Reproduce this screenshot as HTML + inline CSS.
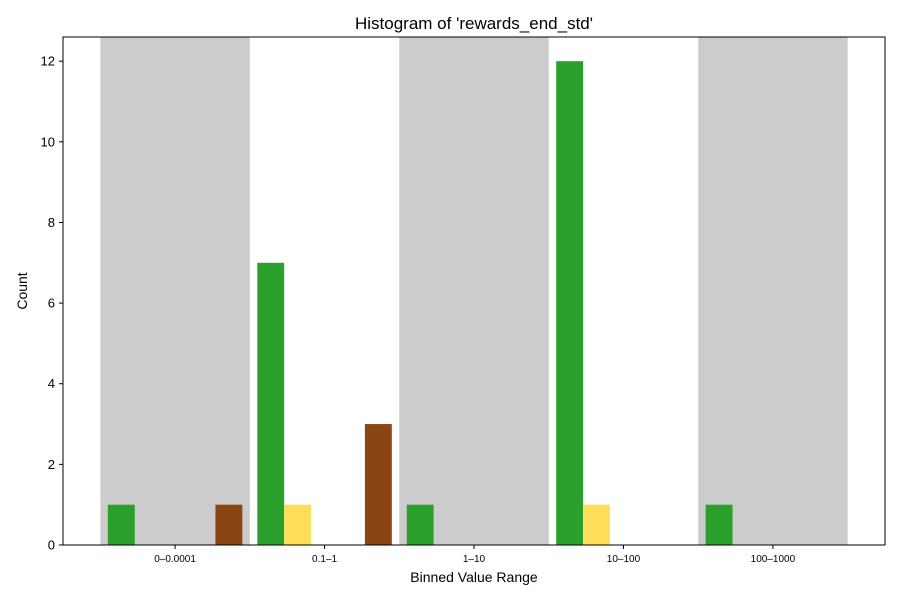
<!DOCTYPE html>
<html><head><meta charset="utf-8"><style>
body{margin:0;background:#fff}
text{font-family:"Liberation Sans","DejaVu Sans",sans-serif}
</style></head><body>
<svg id="chart" width="900" height="600"></svg>
<script>
const categories=["0–0.0001","0.1–1","1–10","10–100","100–1000"];
const greenValues=[1,7,1,12,1];
const yellowValues=[0,1,0,1,0];
const brownValues=[1,3,0,0,0];
const yTicks=[0,2,4,6,8,10,12];
const shadedCategories=[0,2,4];

const L=63,R=885,T=37,B=545,yMax=12.6,xMin=-0.75,xMax=4.75;
const xs=v=>L+(v-xMin)/(xMax-xMin)*(R-L);
const ys=v=>B-v/yMax*(B-T);
const svg=document.getElementById('chart');
const NS='http://www.w3.org/2000/svg';
function mk(tag,attrs,parent){const e=document.createElementNS(NS,tag);for(const k in attrs)e.setAttribute(k,attrs[k]);(parent||svg).appendChild(e);return e;}

shadedCategories.forEach(i=>{
  const r=mk('rect',{x:xs(i-0.5),y:T,width:xs(i+0.5)-xs(i-0.5),height:B-T,fill:'#cccccc'});
  
  
});
const series=[[greenValues,'#2ca02c',-0.36,'green'],[yellowValues,'#ffdf5a',-0.18,'yellow'],[brownValues,'#8b4513',0.36,'brown']];
const bw=0.18;
series.forEach(([vals,col,off,nm])=>{
  vals.forEach((v,i)=>{
    if(v<=0)return;
    const r=mk('rect',{x:xs(i+off-bw/2),y:ys(v),width:xs(bw)-xs(0),height:ys(0)-ys(v),fill:col});
    
    
  });
});
const frame=mk('rect',{x:L,y:T,width:R-L,height:B-T,fill:'none',stroke:'#000','stroke-width':1});


yTicks.forEach(t=>{
  const y=ys(t);
  mk('line',{x1:L-4,x2:L,y1:y,y2:y,stroke:'#000'});
  const tx=mk('text',{x:L-8,y:y+4.5,'text-anchor':'end','font-size':13});
  tx.textContent=t;
  
  
});
categories.forEach((c,i)=>{
  const x=xs(i);
  mk('line',{x1:x,x2:x,y1:B,y2:B+4,stroke:'#000'});
  const tx=mk('text',{x:x,y:B+17,'text-anchor':'middle','font-size':10});
  tx.textContent=c;
  
  
});
const title=mk('text',{x:(L+R)/2,y:29,'text-anchor':'middle','font-size':17});
title.textContent="Histogram of 'rewards_end_std'";


const xl=mk('text',{x:(L+R)/2,y:582,'text-anchor':'middle','font-size':14});
xl.textContent="Binned Value Range";


const yl=mk('text',{x:0,y:0,'text-anchor':'middle','font-size':14,transform:'translate(27,'+((T+B)/2)+') rotate(-90)'});
yl.textContent="Count";


</script>
</body></html>
